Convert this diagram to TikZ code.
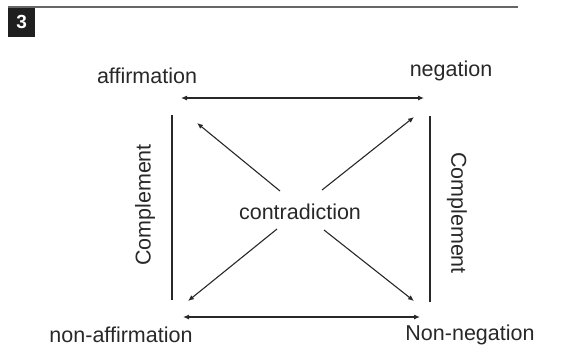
\documentclass[tikz,border=0pt]{standalone}
\usepackage{fontspec}
\setmainfont{Liberation Sans}
\usetikzlibrary{arrows.meta, positioning}
\definecolor{Inkgray}{RGB}{40,40,40}

\begin{document}
\begin{tikzpicture}[x=1pt, y=-1pt,
  term/.style={font=\fontsize{21.5}{25}\selectfont, text=Inkgray, inner sep=0pt},
  side/.style={term, rotate=#1},
  link/.style={draw=Inkgray, line width=1.1pt},
  both/.style={link,
    {Latex[length=6pt,width=5pt]}-{Latex[length=6pt,width=5pt]}},
  oneway/.style={link, -{Latex[length=6pt,width=5pt]}},
  tag/.style={fill=black!88, text=white, inner sep=0pt,
    font=\bfseries\fontsize{19}{21}\selectfont,
    minimum width=27pt, minimum height=30pt},
  rule/.style={draw=black!60, line width=1.3pt}
]
\useasboundingbox (0,0) rectangle (569,349);

%% ═══════════════════════════════════════════════
%% Cabecera — número de figura
%% ═══════════════════════════════════════════════
\node[tag, anchor=north west] (num) at (8,7) {3};
\coordinate (ruleend) at (518,7);
\draw[rule] (num.north west) -- (ruleend);

%% ═══════════════════════════════════════════════
%% Términos del cuadrado
%% ═══════════════════════════════════════════════
\node[term] (aff)    at (147,76)  {affirmation};
\node[term] (neg)    at (451,71)  {negation};
\node[term] (naff)   at (121,335) {non-affirmation};
\node[term] (nneg)   at (470,335) {Non-negation};
\node[term] (contra) at (300,212) {contradiction};
\node[side=90]  (compl) at (145,205) {Complement};
\node[side=-90] (compr) at (457,213) {Complement};

%% Esquinas de las flechas
\coordinate (ul) at (181,98);
\coordinate (ur) at (424,98);
\coordinate (ll) at (183,317);
\coordinate (lr) at (420,317);

%% Extremos de los lados
\coordinate (lt) at (172,115);
\coordinate (lb) at (172,300);
\coordinate (rt) at (430,116);
\coordinate (rb) at (430,302);

%% Diagonales (centro -> esquina)
\coordinate (cul) at (280,191);
\coordinate (cur) at (322,190);
\coordinate (cll) at (277,229);
\coordinate (clr) at (324,230);
\coordinate (tul) at (197,123);
\coordinate (tur) at (414,117);
\coordinate (tll) at (188,301);
\coordinate (tlr) at (414,301);

%% ── Flechas ────────────────────────────────────
\draw[both] (ul) -- (ur);
\draw[both] (ll) -- (lr);

\draw[link] (lt) -- (lb);
\draw[link] (rt) -- (rb);

\draw[oneway] (cul) -- (tul);
\draw[oneway] (cur) -- (tur);
\draw[oneway] (cll) -- (tll);
\draw[oneway] (clr) -- (tlr);

\end{tikzpicture}
\end{document}
